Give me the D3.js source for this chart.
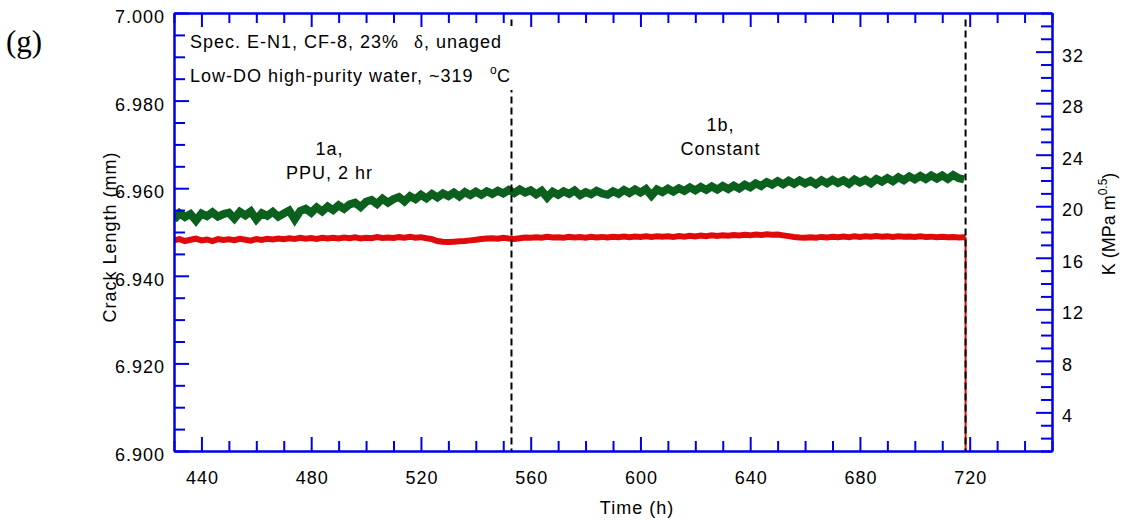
<!DOCTYPE html>
<html>
<head>
<meta charset="utf-8">
<script src="https://cdn.jsdelivr.net/npm/d3@7"></script>
<style>
  html, body { margin: 0; padding: 0; background: #fff; }
  svg { display: block; }
  text { font-family: "Liberation Sans", Arial, sans-serif; fill: #000; }
</style>
</head>
<body>
<svg id="chart" width="1123" height="523"></svg>
<script>
// ---------------- data ----------------
const timeStart = 430, timeStep = 2;   // samples every 2 h, 430 .. 718 h
const crackLength = [ // mm, left axis (green)
  6.9528, 6.9543, 6.9534, 6.9541, 6.9526, 6.9542, 6.9536, 6.9545, 6.9535, 6.9541,
  6.9544, 6.9531, 6.9546, 6.9538, 6.9547, 6.9529, 6.9543, 6.9537, 6.9546, 6.9535,
  6.9542, 6.9549, 6.9529, 6.9548, 6.9553, 6.9544, 6.9556, 6.9547, 6.9558, 6.9550,
  6.9561, 6.9553, 6.9563, 6.9567, 6.9557, 6.9569, 6.9573, 6.9564, 6.9576, 6.9567,
  6.9575, 6.9580, 6.9570, 6.9582, 6.9575, 6.9585, 6.9577, 6.9587, 6.9579, 6.9588,
  6.9582, 6.9590, 6.9581, 6.9591, 6.9584, 6.9592, 6.9585, 6.9593, 6.9587, 6.9594,
  6.9588, 6.9596, 6.9589, 6.9597, 6.9590, 6.9595, 6.9586, 6.9594, 6.9579, 6.9592,
  6.9585, 6.9593, 6.9587, 6.9595, 6.9584, 6.9591, 6.9586, 6.9594, 6.9588, 6.9585,
  6.9593, 6.9587, 6.9596, 6.9589, 6.9597, 6.9590, 6.9598, 6.9583, 6.9597, 6.9591,
  6.9599, 6.9592, 6.9600, 6.9594, 6.9602, 6.9595, 6.9603, 6.9596, 6.9604, 6.9597,
  6.9605, 6.9598, 6.9606, 6.9599, 6.9608, 6.9602, 6.9611, 6.9605, 6.9614, 6.9608,
  6.9616, 6.9609, 6.9617, 6.9610, 6.9618, 6.9611, 6.9617, 6.9609, 6.9618, 6.9611,
  6.9619, 6.9612, 6.9618, 6.9610, 6.9620, 6.9613, 6.9619, 6.9611, 6.9621, 6.9615,
  6.9623, 6.9616, 6.9625, 6.9618, 6.9627, 6.9620, 6.9628, 6.9621, 6.9629, 6.9622,
  6.9629, 6.9621, 6.9630, 6.9623, 6.9620
];
const stressK = [ // MPa m^0.5, right axis (red)
  17.35, 17.45, 17.30, 17.40, 17.48, 17.35, 17.42, 17.30, 17.45, 17.38,
  17.44, 17.36, 17.47, 17.40, 17.33, 17.45, 17.38, 17.48, 17.42, 17.50,
  17.44, 17.52, 17.46, 17.55, 17.48, 17.53, 17.46, 17.55, 17.50, 17.56,
  17.49, 17.57, 17.51, 17.58, 17.50, 17.56, 17.52, 17.60, 17.54, 17.58,
  17.53, 17.60, 17.55, 17.62, 17.56, 17.60, 17.52, 17.45, 17.30, 17.25,
  17.22, 17.25, 17.28, 17.30, 17.35, 17.40, 17.45, 17.50, 17.52, 17.48,
  17.55, 17.50, 17.46, 17.52, 17.58, 17.55, 17.60, 17.56, 17.62, 17.57,
  17.60, 17.55, 17.62, 17.58, 17.61, 17.56, 17.63, 17.58, 17.62, 17.57,
  17.63, 17.59, 17.64, 17.60, 17.65, 17.61, 17.66, 17.62, 17.67, 17.63,
  17.66, 17.62, 17.68, 17.64, 17.70, 17.66, 17.72, 17.68, 17.74, 17.70,
  17.75, 17.71, 17.77, 17.73, 17.78, 17.74, 17.80, 17.76, 17.82, 17.78,
  17.80, 17.74, 17.68, 17.62, 17.58, 17.55, 17.60, 17.56, 17.62, 17.58,
  17.63, 17.59, 17.64, 17.60, 17.66, 17.62, 17.67, 17.63, 17.68, 17.64,
  17.66, 17.62, 17.67, 17.63, 17.65, 17.61, 17.66, 17.62, 17.64, 17.60,
  17.63, 17.59, 17.62, 17.58, 17.60
];
const endTime = 718.5;          // end of test: K drops to zero
const endK = 0;
const phaseLines = [553, 718.5]; // h, dashed phase boundaries

const xMajorTicks = [440, 480, 520, 560, 600, 640, 680, 720];
const xMinorTicks = [430, 450, 460, 470, 490, 500, 510, 530, 540, 550, 570, 580, 590, 610, 620, 630, 650, 660, 670, 690, 700, 710, 730, 740, 750];
const yLeftMajorTicks = [6.900, 6.920, 6.940, 6.960, 6.980, 7.000];
const yLeftMinorTicks = [6.905, 6.910, 6.915, 6.925, 6.930, 6.935, 6.945, 6.950, 6.955, 6.965, 6.970, 6.975, 6.985, 6.990, 6.995];
const yRightMajorTicks = [4, 8, 12, 16, 20, 24, 28, 32];
const yRightMinorTicks = [1, 2, 3, 5, 6, 7, 9, 10, 11, 13, 14, 15, 17, 18, 19, 21, 22, 23, 25, 26, 27, 29, 30, 31, 33, 34, 35];

const phaseLabels = [
  { t: 486.5, lines: ["1a,", "PPU, 2 hr"] },
  { t: 629, lines: ["1b,", "Constant"] }
];

// ---------------- layout ----------------
const L = 174, R = 1052, T = 13, B = 451;
const AXIS = "#0000e6", GREEN = "#0b601d", RED = "#e00a0a";
const FS = "18px", LS = "1px";
const svg = d3.select("#chart");

const x = d3.scaleLinear().domain([430, 750]).range([L, R]);
const yL = d3.scaleLinear().domain([6.9, 7.0]).range([B, T]);
const yR = d3.scaleLinear().domain([1, 35]).range([B, T]);

svg.append("defs").append("clipPath").attr("id", "plot")
  .append("rect").attr("x", L).attr("y", T).attr("width", R - L).attr("height", B - T);

const times = crackLength.map((d, i) => timeStart + i * timeStep);

// data
const gData = svg.append("g").attr("clip-path", "url(#plot)");
const greenPts = crackLength.map((v, i) => [times[i], v]);
gData.append("path")
  .attr("d", d3.line().x(d => x(d[0])).y(d => yL(d[1]))(greenPts))
  .attr("fill", "none").attr("stroke", GREEN).attr("stroke-width", 8).attr("stroke-linejoin", "miter").attr("stroke-miterlimit", 6);
const redPts = stressK.map((v, i) => [times[i], v]);
redPts.push([endTime, stressK[stressK.length - 1]]);
gData.append("path")
  .attr("d", d3.line().x(d => x(d[0])).y(d => yR(d[1]))(redPts))
  .attr("fill", "none").attr("stroke", RED).attr("stroke-width", 6).attr("stroke-linejoin", "miter").attr("stroke-miterlimit", 4);
gData.append("path")
  .attr("d", d3.line().x(d => x(d[0])).y(d => yR(d[1]))([[endTime, endK], [endTime, stressK[stressK.length - 1]]]))
  .attr("fill", "none").attr("stroke", RED).attr("stroke-width", 2);

// dashed phase boundaries
phaseLines.forEach(t => {
  svg.append("line")
    .attr("x1", x(t)).attr("x2", x(t)).attr("y1", yL(6.9985)).attr("y2", yL(6.9))
    .attr("stroke", "#000").attr("stroke-width", 2).attr("stroke-dasharray", "7,4");
});

// annotation box (opaque)
svg.append("rect").attr("x", 186).attr("y", 26).attr("width", 330).attr("height", 64).attr("fill", "#fff");

const ann = svg.append("g").style("font-size", FS).style("letter-spacing", LS);
ann.append("text").attr("x", 190).attr("y", 48).text("Spec. E-N1, CF-8, 23%");
const t2 = ann.append("text").attr("x", 414).attr("y", 48);
t2.append("tspan").style("font-family", "'Liberation Serif', 'Times New Roman', serif").style("font-size", "19px").text("δ");
t2.append("tspan").text(", unaged");
ann.append("text").attr("x", 190).attr("y", 82).text("Low-DO high-purity water, ~319");
ann.append("text").attr("x", 490).attr("y", 74).style("font-size", "12px").style("letter-spacing", "0px").text("o");
ann.append("text").attr("x", 497).attr("y", 82).style("letter-spacing", "0px").text("C");

phaseLabels.forEach(p => {
  p.lines.forEach((s, i) => {
    ann.append("text").attr("x", x(p.t)).attr("y", (p.t < 600 ? 155 : 131) + i * 24)
      .attr("text-anchor", "middle").attr("dx", 0.5).text(s);
  });
});

// ---------------- axes ----------------
function styleAxis(g) {
  g.select(".domain").attr("stroke", AXIS).attr("stroke-width", 2);
  g.selectAll(".tick line").attr("stroke", AXIS).attr("stroke-width", 2);
  g.selectAll(".tick text").style("font-size", FS).style("letter-spacing", LS)
    .attr("fill", "#000").style("font-family", "'Liberation Sans', Arial, sans-serif");
}
// bottom
svg.append("g").attr("transform", `translate(0,${B})`)
  .call(d3.axisBottom(x).tickValues(xMinorTicks).tickSize(-10).tickSizeOuter(0).tickFormat(""))
  .call(styleAxis);
svg.append("g").attr("transform", `translate(0,${B})`)
  .call(d3.axisBottom(x).tickValues(xMajorTicks).tickSize(-14).tickSizeOuter(0).tickPadding(20).tickFormat(d3.format("d")))
  .call(styleAxis)
  .call(g => g.selectAll(".tick text").attr("dx", 0.5));
// top
svg.append("g").attr("transform", `translate(0,${T})`)
  .call(d3.axisTop(x).tickValues(xMinorTicks).tickSize(-10).tickSizeOuter(0).tickFormat(""))
  .call(styleAxis);
svg.append("g").attr("transform", `translate(0,${T})`)
  .call(d3.axisTop(x).tickValues(xMajorTicks).tickSize(-14).tickSizeOuter(0).tickFormat(""))
  .call(styleAxis);
// left
svg.append("g").attr("transform", `translate(${L},0)`)
  .call(d3.axisLeft(yL).tickValues(yLeftMinorTicks).tickSize(-11).tickSizeOuter(0).tickFormat(""))
  .call(styleAxis);
svg.append("g").attr("transform", `translate(${L},0)`)
  .call(d3.axisLeft(yL).tickValues(yLeftMajorTicks).tickSize(-15).tickSizeOuter(0).tickPadding(10).tickFormat(d3.format(".3f")))
  .call(styleAxis)
  .call(g => g.selectAll(".tick text").attr("dy", "0.53em").attr("dx", 1));
// right
svg.append("g").attr("transform", `translate(${R},0)`)
  .call(d3.axisRight(yR).tickValues(yRightMinorTicks).tickSize(-11).tickSizeOuter(0).tickFormat(""))
  .call(styleAxis);
svg.append("g").attr("transform", `translate(${R},0)`)
  .call(d3.axisRight(yR).tickValues(yRightMajorTicks).tickSize(-16).tickSizeOuter(0).tickPadding(10).tickFormat(d3.format("d")))
  .call(styleAxis)
  .call(g => g.selectAll(".tick text").attr("dy", "0.53em"));

// ---------------- titles ----------------
svg.append("text").attr("x", 6).attr("y", 52)
  .style("font-family", "'Liberation Serif', 'Times New Roman', serif").style("font-size", "31px")
  .text("(g)");
svg.append("text").attr("transform", "translate(116,237) rotate(-90)").attr("text-anchor", "middle")
  .style("font-size", FS).style("letter-spacing", LS).text("Crack Length (mm)");
svg.append("text").attr("x", 637).attr("y", 514).attr("text-anchor", "middle")
  .style("font-size", FS).style("letter-spacing", LS).text("Time (h)");
const kt = svg.append("text").attr("transform", "translate(1115,224) rotate(-90)").attr("text-anchor", "middle")
  .style("font-size", FS);
kt.append("tspan").text("K (MPa m");
kt.append("tspan").attr("dy", -8).style("font-size", "12px").text("0.5");
kt.append("tspan").attr("dy", 8).text(")");
</script>
</body>
</html>
